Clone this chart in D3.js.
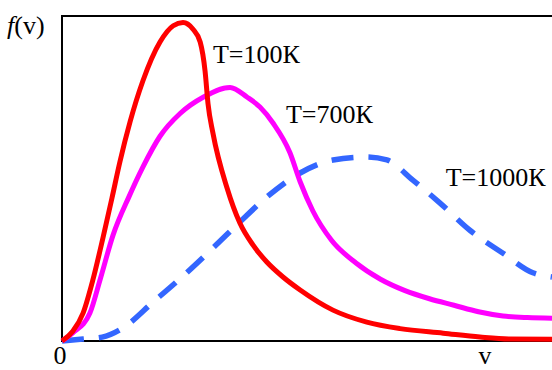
<!DOCTYPE html>
<html>
<head>
<meta charset="utf-8">
<script src="https://cdn.jsdelivr.net/npm/d3@7"></script>
<style>
  body { margin: 0; background: #fff; }
  svg { display: block; }
</style>
</head>
<body>
<div id="chart"></div>
<script>
// Maxwell speed distribution curves (v in 0..10, f in 0..1)
const seriesNames = ["T=100К", "T=700К", "T=1000К"];

const vRed = [0, 0.22, 0.43, 0.63, 0.84, 1.02, 1.18, 1.39, 1.65, 2.0, 2.27, 2.47, 2.67, 2.82, 2.92, 2.98, 3.08, 3.37, 3.63, 3.9, 4.18, 4.51, 4.86, 5.53, 6.22, 6.9, 7.78, 8.53, 9.12, 10];
const fRed = [0, 0.03, 0.086, 0.188, 0.32, 0.44, 0.55, 0.675, 0.80, 0.92, 0.97, 0.98, 0.96, 0.92, 0.83, 0.73, 0.64, 0.47, 0.363, 0.295, 0.243, 0.197, 0.157, 0.095, 0.058, 0.038, 0.024, 0.012, 0.006, 0.005];

const vMagenta = [0, 0.22, 0.57, 0.78, 1.04, 1.37, 1.65, 2.0, 2.41, 2.88, 3.43, 3.78, 4.04, 4.31, 4.65, 4.86, 5.12, 5.5, 6.0, 6.5, 7.0, 7.5, 8.0, 8.5, 9.0, 9.5, 10];
const fMagenta = [0, 0.025, 0.086, 0.19, 0.325, 0.445, 0.535, 0.63, 0.70, 0.75, 0.78, 0.75, 0.72, 0.67, 0.58, 0.49, 0.40, 0.31, 0.24, 0.19, 0.155, 0.13, 0.11, 0.09, 0.077, 0.072, 0.07];

const vBlue = [0, 0.43, 0.82, 1.24, 1.86, 2.47, 3.08, 3.63, 4.18, 4.86, 5.53, 6.2, 6.63, 7.16, 7.71, 8.33, 9.0, 9.61, 10];
const fBlue = [0, 0.006, 0.012, 0.04, 0.12, 0.20, 0.286, 0.366, 0.443, 0.517, 0.557, 0.566, 0.557, 0.495, 0.425, 0.34, 0.27, 0.21, 0.197];

const axisLabels = { y: "(v)", yItalic: "f", x: "v", origin: "0" };

const FONT = "'Liberation Serif', 'Times New Roman', 'DejaVu Serif', serif";
const FONT_SIZE = 26;
const width = 552, height = 370;
const margin = { top: 16, right: 0, bottom: 29, left: 62 };

const svg = d3.select("#chart").append("svg")
  .attr("width", width)
  .attr("height", height)
  .attr("font-family", FONT);

const x = d3.scaleLinear().domain([0, 10]).range([margin.left, width - margin.right]);
const y = d3.scaleLinear().domain([0, 1]).range([height - margin.bottom, margin.top]);

// frame: left, top and bottom lines only
svg.append("path")
  .attr("d", `M${x(10)},${y(1)}H${x(0)}V${y(0)}H${x(10)}`)
  .attr("fill", "none")
  .attr("stroke", "#000")
  .attr("stroke-width", 2);

const line = d3.line()
  .x(d => x(d[0]))
  .y(d => y(d[1]))
  .curve(d3.curveMonotoneX);

const series = [
  { v: vBlue, f: fBlue, color: "#3366ff", width: 5.5, dash: "22,15" },
  { v: vMagenta, f: fMagenta, color: "#ff00ff", width: 5, dash: null },
  { v: vRed, f: fRed, color: "#ff0000", width: 5, dash: null }
];

series.forEach(s => {
  svg.append("path")
    .datum(d3.zip(s.v, s.f))
    .attr("fill", "none")
    .attr("stroke", s.color)
    .attr("stroke-width", s.width)
    .attr("stroke-linejoin", "round")
    .attr("stroke-dasharray", s.dash)
    .attr("d", line);
});

// curve labels
const labelPos = [[3.08, 0.855], [4.57, 0.67], [7.83, 0.477]];
svg.selectAll("text.curve-label")
  .data(seriesNames)
  .join("text")
  .attr("class", "curve-label")
  .attr("x", (d, i) => x(labelPos[i][0]))
  .attr("y", (d, i) => y(labelPos[i][1]))
  .attr("font-family", FONT)
  .attr("font-size", FONT_SIZE)
  .text(d => d);

// axis labels
const fv = svg.append("text")
  .attr("x", 7)
  .attr("y", 34)
  .attr("font-family", FONT)
  .attr("font-size", FONT_SIZE);
fv.append("tspan").attr("font-style", "italic").text(axisLabels.yItalic);
fv.append("tspan").text(axisLabels.y);

svg.append("text")
  .attr("x", x(0) - 2)
  .attr("y", 364)
  .attr("text-anchor", "middle")
  .attr("font-family", FONT)
  .attr("font-size", FONT_SIZE)
  .text(axisLabels.origin);

svg.append("text")
  .attr("x", 485)
  .attr("y", 364)
  .attr("text-anchor", "middle")
  .attr("font-family", FONT)
  .attr("font-size", FONT_SIZE)
  .text(axisLabels.x);
</script>
</body>
</html>
